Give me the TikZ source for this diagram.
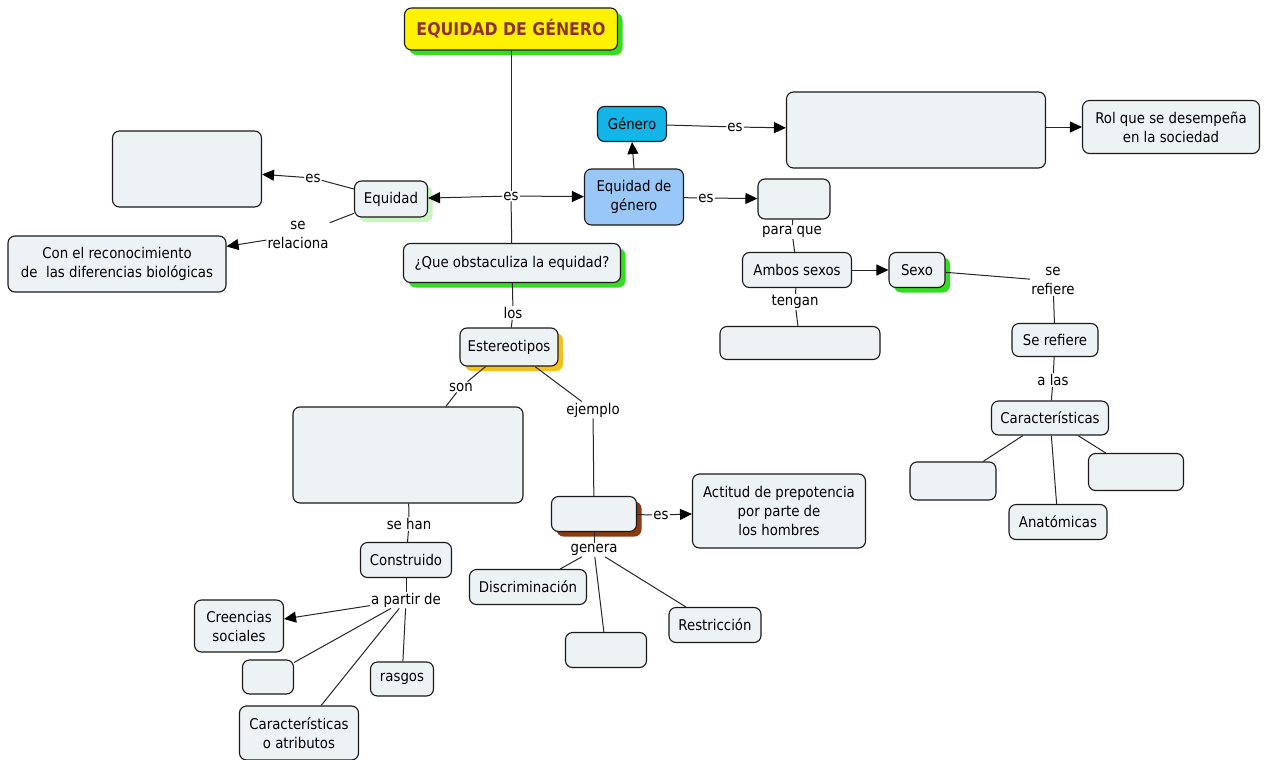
\documentclass[tikz,border=0pt]{standalone}
\usepackage{fontspec}
\setmainfont{DejaVu Sans Condensed}
\usetikzlibrary{arrows.meta,shadows}
\definecolor{nodefill}{HTML}{EDF2F5}
\definecolor{cgen}{HTML}{14B4E8}
\definecolor{cedg}{HTML}{99C8F8}
\definecolor{ctitle}{HTML}{8C3232}
\definecolor{shgreen}{HTML}{33DD22}
\definecolor{shlight}{HTML}{C8F5C0}
\definecolor{shyellow}{HTML}{F2C21A}
\definecolor{shbrown}{HTML}{8B3A10}
\begin{document}
\begin{tikzpicture}[x=1pt,y=-1pt,
  concept/.style={draw=black!90, line width=1.1pt, rounded corners=7pt, fill=nodefill,
    align=center, inner sep=2pt, font=\fontsize{14.8}{19}\selectfont},
  sz/.style 2 args={minimum width=#1pt, minimum height=#2pt},
  sh/.style={drop shadow={shadow xshift=5pt, shadow yshift=-5pt, fill=#1, opacity=1}},
  lbl/.style={fill=white, inner sep=1pt, align=center, font=\fontsize{14.8}{19}\selectfont},
  link/.style={draw=black!85, line width=1pt},
  arr/.style={link, -{Triangle[length=12pt,width=11pt,fill=black,color=black]}},
]
\useasboundingbox[fill=white] (0,0) rectangle (1266,760);

% concepts
\node[concept, sz={213}{42}, fill=yellow, sh=shgreen, text=ctitle,
  font=\fontsize{17.5}{20}\selectfont\bfseries] (title) at (511,29) {EQUIDAD DE GÉNERO};
\node[concept, sz={69}{35}, fill=cgen] (genero) at (632,124) {Género};
\node[concept, sz={259}{76}] (bigbox) at (916,130) {};
\node[concept, sz={177}{53}] (rol) at (1171,127) {Rol que se desempeña\\en la sociedad};
\node[concept, sz={99}{56}, fill=cedg] (edg) at (634,197) {Equidad de\\género};
\node[concept, sz={72}{40}] (e1) at (794,199) {};
\node[concept, sz={73}{36}, sh=shlight] (equidad) at (391,199) {Equidad};
\node[concept, sz={149}{76}] (e2) at (187,169) {};
\node[concept, sz={218}{56}] (recon) at (117,264) {Con el reconocimiento\\de\ \ las diferencias biológicas};
\node[concept, sz={217}{39}, sh=shgreen] (que) at (512,263) {¿Que obstaculiza la equidad?};
\node[concept, sz={98}{38}, sh=shyellow] (est) at (509,347) {Estereotipos};
\node[concept, sz={230}{96}] (son) at (408,455) {};
\node[concept, sz={91}{35}] (constr) at (406,560) {Construido};
\node[concept, sz={89}{52}] (creen) at (239,626) {Creencias\\sociales};
\node[concept, sz={51}{34}] (e4) at (268,677) {};
\node[concept, sz={63}{34}] (rasgos) at (402,679) {rasgos};
\node[concept, sz={119}{54}] (caratr) at (299,733) {Características\\o atributos};
\node[concept, sz={85}{35}, sh=shbrown] (ej) at (594,514) {};
\node[concept, sz={173}{74}] (actitud) at (779,511) {Actitud de prepotencia\\por parte de\\los hombres};
\node[concept, sz={117}{35}] (discr) at (528,587) {Discriminación};
\node[concept, sz={81}{35}] (e5) at (606,650) {};
\node[concept, sz={92}{35}] (restr) at (715,625) {Restricción};
\node[concept, sz={109}{35}] (ambos) at (797,270) {Ambos sexos};
\node[concept, sz={56}{35}, sh=shgreen] (sexo) at (917,270) {Sexo};
\node[concept, sz={160}{33}] (e6) at (800,343) {};
\node[concept, sz={86}{33}] (serefiere) at (1055,340) {Se refiere};
\node[concept, sz={117}{34}] (caract) at (1050,418) {Características};
\node[concept, sz={86}{38}] (e7) at (953,481) {};
\node[concept, sz={95}{37}] (e8) at (1136,472) {};
\node[concept, sz={98}{35}] (anat) at (1058,522) {Anatómicas};

% link labels
\node[lbl] (lTop) at (511,196) {es};
\node[lbl] (lGen) at (735,127) {es};
\node[lbl] (lEdg) at (706,198) {es};
\node[lbl] (lPara) at (792,232) {para que};
\node[lbl] (lTeng) at (795,302) {tengan};
\node[lbl] (lSeRef) at (1053,281) {se\\refiere};
\node[lbl] (lALas) at (1053,380) {a las};
\node[lbl] (lEqEs) at (313,178) {es};
\node[lbl] (lRel) at (298,235) {se\\relaciona};
\node[lbl] (lLos) at (513,313) {los};
\node[lbl] (lSon) at (461,387) {son};
\node[lbl] (lEjem) at (593,410) {ejemplo};
\node[lbl] (lSeHan) at (409,524) {se han};
\node[lbl] (lAPartir) at (406,600) {a partir de};
\node[lbl] (lEjEs) at (661,515) {es};
\node[lbl] (lGenera) at (594,550) {genera};

% connectors
\draw[link] (title) -- (lTop);
\draw[link] (lTop) -- (que);
\draw[arr] (lTop) -- (equidad);
\draw[arr] (lTop) -- (edg);
\draw[arr] (edg.north) -- (genero.south);
\draw[link] (genero) -- (lGen);
\draw[arr] (lGen) -- (bigbox);
\draw[arr] (bigbox.east |- rol.west) -- (rol.west);
\draw[link] (edg) -- (lEdg);
\draw[arr] (lEdg) -- (e1);
\draw[link] (e1) -- (lPara);
\draw[link] (lPara) -- (ambos);
\draw[arr] (ambos) -- (sexo);
\draw[link] (ambos) -- (lTeng);
\draw[link] (lTeng) -- (e6);
\draw[link] (sexo) -- (lSeRef);
\draw[link] (lSeRef) -- (serefiere);
\draw[link] (serefiere) -- (lALas);
\draw[link] (lALas) -- (caract);
\draw[link] (caract) -- (e7);
\draw[link] (caract) -- (anat);
\draw[link] (caract) -- (e8);
\draw[link] (equidad) -- (lEqEs);
\draw[arr] (lEqEs) -- (e2);
\draw[link] (equidad) -- (lRel);
\draw[arr] (lRel) -- (recon);
\draw[link] (que) -- (lLos);
\draw[link] (lLos) -- (est);
\draw[link] (est) -- (lSon);
\draw[link] (lSon) -- (son);
\draw[link] (est) -- (lEjem);
\draw[link] (lEjem) -- (ej);
\draw[link] (son) -- (lSeHan);
\draw[link] (lSeHan) -- (constr);
\draw[link] (constr) -- (lAPartir);
\draw[arr] (lAPartir) -- (creen);
\draw[link] (lAPartir) -- (e4);
\draw[link] (lAPartir) -- (caratr);
\draw[link] (lAPartir) -- (rasgos);
\draw[link] (ej) -- (lEjEs);
\draw[arr] (lEjEs) -- (actitud);
\draw[link] (ej) -- (lGenera);
\draw[link] (lGenera) -- (discr);
\draw[link] (lGenera) -- (e5);
\draw[link] (lGenera) -- (restr);
\end{tikzpicture}
\end{document}
